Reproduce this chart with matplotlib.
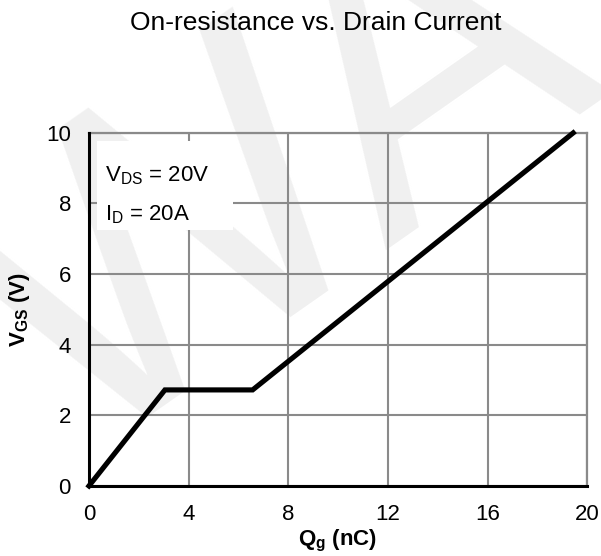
import matplotlib
matplotlib.use("Agg")
import matplotlib.pyplot as plt
from matplotlib.patches import Rectangle

# Data
qg = [0.0, 3.05, 6.57, 19.44]
vgs = [0.0, 2.72, 2.72, 10.0]
x_ticks = [0, 4, 8, 12, 16, 20]
y_ticks = [0, 2, 4, 6, 8, 10]
title = "On-resistance vs. Drain Current"

plt.rcParams['font.family'] = ['Liberation Sans', 'DejaVu Sans']
plt.rcParams['mathtext.default'] = 'regular'

fig = plt.figure(figsize=(6.01, 5.56), dpi=100, facecolor='white')
ax = fig.add_axes([0.148, 0.126, 0.829, 0.635])
ax.set_facecolor('none')
ax.set_zorder(1)

ax.plot(qg, vgs, color='black', lw=3.7, solid_joinstyle='miter', zorder=4, clip_on=False)
ax.set_xlim(0, 20)
ax.set_ylim(0, 10)
ax.set_xticks(x_ticks)
ax.set_yticks(y_ticks)
ax.tick_params(length=0, labelsize=16, pad=13)
ax.grid(True, color='#8a8a8a', lw=1.5)
ax.set_axisbelow(True)
for s in ['top', 'right']:
    ax.spines[s].set_color('#8a8a8a')
    ax.spines[s].set_linewidth(1.6)
for s in ['left', 'bottom']:
    ax.spines[s].set_color('black')
    ax.spines[s].set_linewidth(2.2)
    ax.spines[s].set_zorder(5)

# white background of the condition box
ax.add_patch(Rectangle((0.016, 0.725), 0.273, 0.252, transform=ax.transAxes,
                       facecolor='white', edgecolor='none', zorder=2))
ax.text(0.032, 0.862, r"V$_{DS}$ = 20V", transform=ax.transAxes, fontsize=16,
        va='baseline', zorder=3)
ax.text(0.032, 0.752, r"I$_{D}$ = 20A", transform=ax.transAxes, fontsize=16,
        va='baseline', zorder=3)

ax.set_xlabel(r"Q$_{g}$ (nC)", fontsize=16, fontweight='bold', labelpad=2)
ax.set_ylabel(r"V$_{GS}$ (V)", fontsize=16, fontweight='bold', labelpad=10)

fig.text(0.526, 0.958, title, ha='center', va='center', fontsize=19)

# watermark
fig.text(0.47, 0.66, "WA", fontsize=300, color='#f0f0f0', rotation=35,
         ha='center', va='center', zorder=0)

fig.savefig("out.png", dpi=100, facecolor='white')
